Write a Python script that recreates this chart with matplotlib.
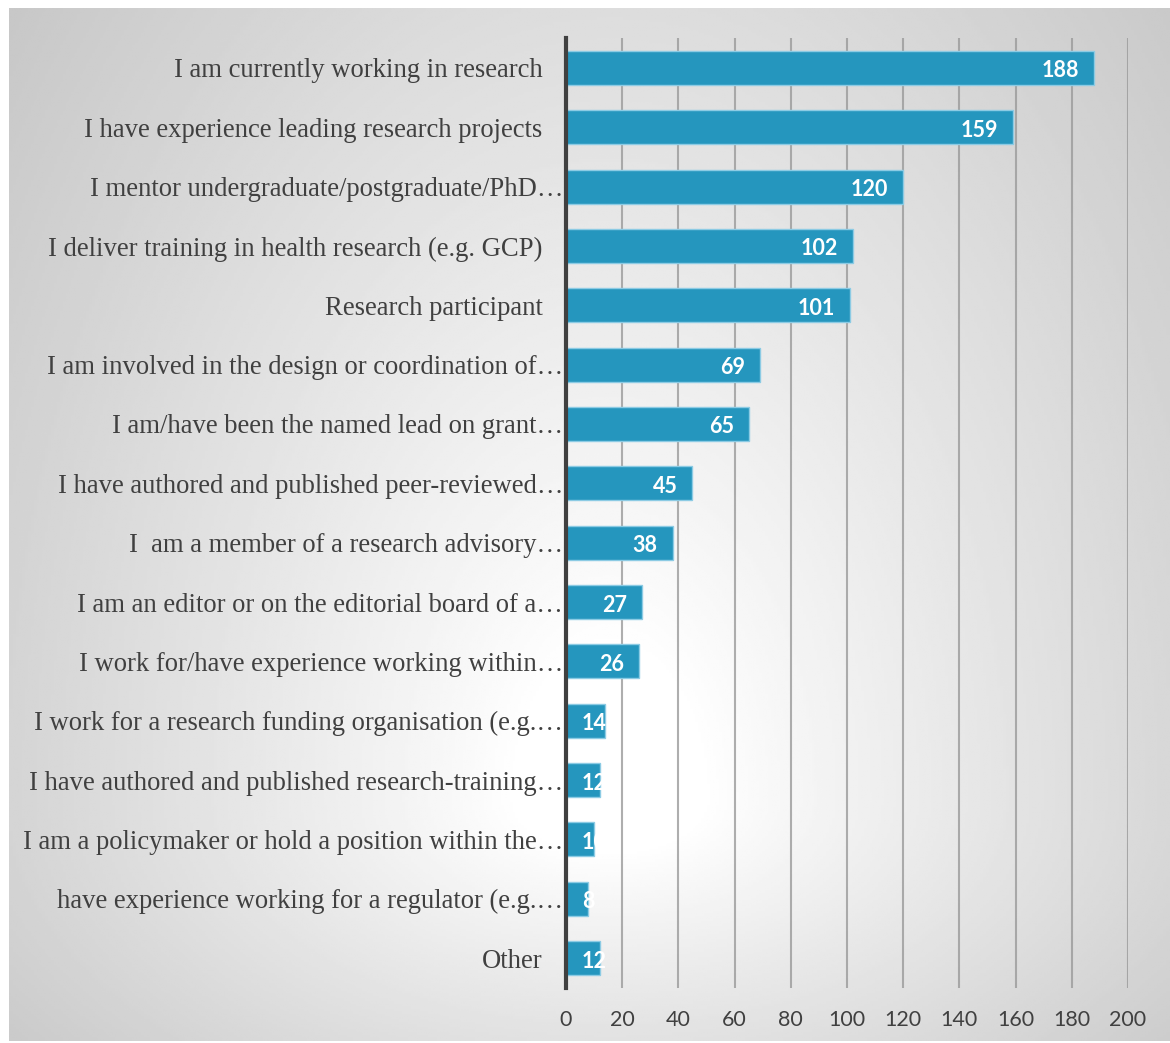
import matplotlib.pyplot as plt
import numpy as np

# survey answers, top to bottom as shown in the chart
labels = ["I am currently working in research",
          "I have experience leading research projects",
          "I mentor undergraduate/postgraduate/PhD\u2026",
          "I deliver training in health research (e.g. GCP)",
          "Research participant",
          "I am involved in the design or coordination of\u2026",
          "I am/have been the named lead on grant\u2026",
          "I have authored and published peer-reviewed\u2026",
          "I  am a member of a research advisory\u2026",
          "I am an editor or on the editorial board of a\u2026",
          "I work for/have experience working within\u2026",
          "I work for a research funding organisation (e.g.\u2026",
          "I have authored and published research-training\u2026",
          "I am a policymaker or hold a position within the\u2026",
          "have experience working for a regulator (e.g.\u2026",
          "Other"]
counts = [188, 159, 120, 102, 101, 69, 65, 45, 38, 27, 26, 14, 12, 10, 8, 12]
xticks = [0, 20, 40, 60, 80, 100, 120, 140, 160, 180, 200]

W, H = 1170, 1043
fig = plt.figure(figsize=(W/100, H/100), dpi=100)
fig.patch.set_facecolor('white')

# background box with a soft radial gradient
bg = fig.add_axes([9/W, 2/H, 1-9/W, (1041-8)/H])
bg.set_axis_off()
xx, yy = np.meshgrid(np.linspace(9, 1170, 400), np.linspace(8, 1041, 400))
ry = np.where(yy > 800, 350, 1000)
r = np.sqrt(((xx-610)/620)**2 + ((yy-800)/ry)**2)
shade = 1 - 0.2*np.clip(r-0.15, 0, None)**0.9
bg.imshow(shade, cmap='gray', vmin=0, vmax=1, aspect='auto', extent=[0, 1, 0, 1], origin='upper')
bg.set_xlim(0, 1)
bg.set_ylim(0, 1)

top, bot = 38.3, 987.7
ax = fig.add_axes([566/W, 1-bot/H, (1128-566)/W, (bot-top)/H])
ax.patch.set_alpha(0)

y = np.arange(len(labels))
ax.barh(y, counts, height=0.57, color='#2596be', edgecolor='#8ccbe4', linewidth=1.0, zorder=3)
ax.set_xlim(0, 200)
ax.set_ylim(len(labels)-0.5, -0.5)
ax.set_xticks(xticks)
ax.set_xticklabels([str(t) for t in xticks], fontfamily='Lato', fontsize=15.5, color='#404040')
ax.set_yticks(y)
ax.set_yticklabels(labels, fontfamily='Liberation Serif', fontsize=19.2, color='#404040')
ax.tick_params(axis='x', length=0, pad=16)
ax.tick_params(axis='y', length=0, pad=17)
for tick, lab in zip(ax.yaxis.get_major_ticks(), labels):
    if lab.endswith('\u2026'):
        tick.set_pad(2)

ax.grid(axis='x', color='#9a9a9a', linewidth=1.5, alpha=0.8, zorder=0)
for s in ['top', 'right', 'bottom']:
    ax.spines[s].set_visible(False)
ax.spines['left'].set_color('#404040')
ax.spines['left'].set_linewidth(3)
ax.spines['left'].set_zorder(4)

# value labels inside the bar ends
for yi, v in zip(y, counts):
    if v > 20:
        ax.annotate(str(v), (v, yi), xytext=(-15, -3), textcoords='offset pixels',
                    ha='right', va='center', color='white', fontfamily='Lato',
                    fontweight='bold', fontsize=15.5, zorder=5)
    else:
        ax.annotate(str(v), (0, yi), xytext=(16, -3), textcoords='offset pixels',
                    ha='left', va='center', color='white', fontfamily='Lato',
                    fontweight='bold', fontsize=15.5, zorder=5)

plt.savefig('out.png', dpi=100)
